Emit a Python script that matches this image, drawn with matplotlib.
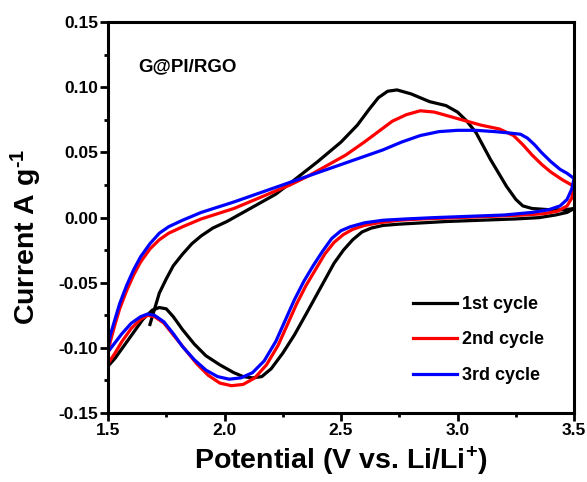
import numpy as np
import matplotlib
matplotlib.use('Agg')
import matplotlib.pyplot as plt
from matplotlib.ticker import MultipleLocator

plt.rcParams['font.family'] = ['Liberation Sans', 'DejaVu Sans']
plt.rcParams['font.weight'] = 'bold'
plt.rcParams['mathtext.fontset'] = 'custom'
plt.rcParams['mathtext.rm'] = 'Liberation Sans:bold'
plt.rcParams['mathtext.bf'] = 'Liberation Sans:bold'
plt.rcParams['mathtext.default'] = 'bf'

# 1st cycle: starts near 1.68 V, anodic sweep to 3.5 V then back to 1.5 V
c1_up_v = [1.68, 1.70, 1.72, 1.75, 1.78, 1.82, 1.86, 1.90, 1.95, 2.01, 2.08, 2.14, 2.22,
           2.30, 2.40, 2.50, 2.57, 2.62, 2.66, 2.70, 2.74, 2.80, 2.88, 2.95, 3.00, 3.04,
           3.08, 3.11, 3.14, 3.18, 3.21, 3.25, 3.28, 3.32, 3.40, 3.46, 3.50]
c1_up_i = [-0.082, -0.070, -0.058, -0.047, -0.037, -0.028, -0.020, -0.014, -0.008, -0.003,
           0.004, 0.010, 0.018, 0.029, 0.043, 0.058, 0.071, 0.083, 0.092, 0.097, 0.098,
           0.095, 0.089, 0.086, 0.081, 0.074, 0.065, 0.055, 0.045, 0.033, 0.024, 0.014,
           0.009, 0.007, 0.006, 0.006, 0.007]
c1_dn_v = [3.50, 3.47, 3.42, 3.35, 3.25, 3.10, 2.95, 2.85, 2.75, 2.68, 2.63, 2.59, 2.55,
           2.51, 2.47, 2.43, 2.39, 2.35, 2.30, 2.25, 2.20, 2.16, 2.12, 2.08, 2.04, 1.98,
           1.92, 1.87, 1.82, 1.78, 1.75, 1.72, 1.69, 1.65, 1.61, 1.57, 1.53, 1.50]
c1_dn_i = [0.007, 0.004, 0.002, 0.000, -0.001, -0.002, -0.003, -0.004, -0.005, -0.006,
           -0.008, -0.011, -0.017, -0.025, -0.035, -0.048, -0.061, -0.074, -0.090, -0.104,
           -0.116, -0.122, -0.123, -0.122, -0.119, -0.113, -0.106, -0.097, -0.086, -0.076,
           -0.070, -0.069, -0.071, -0.078, -0.088, -0.098, -0.108, -0.114]

c2_up_v = [1.50, 1.51, 1.53, 1.55, 1.58, 1.61, 1.64, 1.68, 1.72, 1.76, 1.82, 1.90, 1.97,
           2.04, 2.12, 2.20, 2.28, 2.36, 2.44, 2.52, 2.60, 2.66, 2.72, 2.78, 2.84, 2.90,
           2.96, 3.04, 3.10, 3.18, 3.24, 3.28, 3.32, 3.36, 3.40, 3.45, 3.50]
c2_up_i = [-0.105, -0.095, -0.082, -0.070, -0.056, -0.044, -0.034, -0.024, -0.017, -0.012,
           -0.007, -0.001, 0.003, 0.007, 0.013, 0.019, 0.025, 0.032, 0.040, 0.048, 0.058,
           0.066, 0.074, 0.079, 0.082, 0.081, 0.078, 0.074, 0.071, 0.068, 0.063, 0.056,
           0.048, 0.041, 0.035, 0.029, 0.024]
c2_dn_v = [3.50, 3.49, 3.47, 3.43, 3.37, 3.28, 3.15, 3.00, 2.85, 2.75, 2.66, 2.60, 2.55,
           2.51, 2.47, 2.43, 2.39, 2.35, 2.31, 2.27, 2.23, 2.18, 2.13, 2.08, 2.03, 1.98,
           1.93, 1.88, 1.83, 1.78, 1.74, 1.70, 1.67, 1.64, 1.60, 1.56, 1.53, 1.50]
c2_dn_i = [0.024, 0.015, 0.009, 0.005, 0.003, 0.002, 0.001, 0.000, -0.001, -0.002, -0.004,
           -0.006, -0.009, -0.013, -0.019, -0.028, -0.040, -0.052, -0.066, -0.082, -0.098,
           -0.113, -0.123, -0.128, -0.129, -0.127, -0.121, -0.112, -0.101, -0.090, -0.081,
           -0.076, -0.075, -0.078, -0.085, -0.095, -0.104, -0.112]

c3_up_v = [1.50, 1.51, 1.53, 1.55, 1.58, 1.61, 1.64, 1.68, 1.72, 1.76, 1.82, 1.90, 1.97,
           2.04, 2.12, 2.20, 2.28, 2.36, 2.44, 2.52, 2.60, 2.68, 2.76, 2.84, 2.92, 3.00,
           3.08, 3.16, 3.22, 3.27, 3.30, 3.33, 3.36, 3.40, 3.44, 3.47, 3.50]
c3_up_i = [-0.100, -0.090, -0.078, -0.066, -0.052, -0.040, -0.030, -0.020, -0.012, -0.007,
           -0.002, 0.004, 0.008, 0.012, 0.017, 0.022, 0.027, 0.032, 0.037, 0.042, 0.047,
           0.052, 0.058, 0.063, 0.066, 0.067, 0.067, 0.066, 0.065, 0.064, 0.061, 0.056,
           0.050, 0.043, 0.037, 0.034, 0.030]
c3_dn_v = [3.50, 3.49, 3.47, 3.44, 3.39, 3.32, 3.20, 3.05, 2.90, 2.78, 2.68, 2.60, 2.54,
           2.50, 2.46, 2.42, 2.38, 2.34, 2.30, 2.26, 2.22, 2.17, 2.12, 2.07, 2.02, 1.97,
           1.92, 1.87, 1.82, 1.78, 1.74, 1.70, 1.67, 1.64, 1.60, 1.56, 1.53, 1.50]
c3_dn_i = [0.030, 0.022, 0.014, 0.009, 0.006, 0.004, 0.002, 0.001, 0.000, -0.001, -0.002,
           -0.004, -0.007, -0.010, -0.016, -0.026, -0.037, -0.049, -0.063, -0.079, -0.095,
           -0.110, -0.119, -0.123, -0.124, -0.122, -0.117, -0.109, -0.099, -0.089, -0.080,
           -0.075, -0.074, -0.076, -0.081, -0.089, -0.096, -0.103]

labels = ['1st cycle', '2nd cycle', '3rd cycle']
colors = ['#000000', '#ff0000', '#0000ff']

fig = plt.figure(figsize=(5.87, 4.82), dpi=100)
ax = fig.add_axes([0.184, 0.143, 0.794, 0.811])

cycles = [(c1_up_v + c1_dn_v, c1_up_i + c1_dn_i),
          (c2_up_v + c2_dn_v, c2_up_i + c2_dn_i),
          (c3_up_v + c3_dn_v, c3_up_i + c3_dn_i)]
for (v, i), lab, col in zip(cycles, labels, colors):
    ax.plot(v, i, color=col, lw=2.3, label=lab, solid_joinstyle='round')

ax.set_xlim(1.5, 3.5)
ax.set_ylim(-0.15, 0.15)
ax.xaxis.set_major_locator(MultipleLocator(0.5))
ax.xaxis.set_minor_locator(MultipleLocator(0.25))
ax.yaxis.set_major_locator(MultipleLocator(0.05))
ax.yaxis.set_minor_locator(MultipleLocator(0.025))
ax.xaxis.set_major_formatter(matplotlib.ticker.FormatStrFormatter('%.1f'))
ax.yaxis.set_major_formatter(matplotlib.ticker.FuncFormatter(
    lambda y, p: ('%.2f' % y).replace('-0.00', '0.00')))
ax.tick_params(which='both', direction='out', width=2, labelsize=12.5, pad=1.5,
               top=False, right=False)
ax.tick_params(which='major', length=5.5)
ax.tick_params(which='minor', length=3)
for s in ax.spines.values():
    s.set_linewidth(2.2)

ax.set_xlabel(r'Potential (V vs. Li/Li$^{+}$)', fontsize=20.5, fontweight='bold', labelpad=5)
ax.set_ylabel(r'Current A g$^{\text{-1}}$', fontsize=20.5, fontweight='bold')
ax.yaxis.set_label_coords(-0.138, 0.45)

ax.text(1.63, 0.116, 'G@PI/RGO', fontsize=13.5, fontweight='bold', va='center', ha='left')

ax.legend(loc='center left', bbox_to_anchor=(0.655, 0.187), frameon=False,
          fontsize=13, handlelength=2.4, handletextpad=0.3, labelspacing=1.02,
          borderpad=0, borderaxespad=0)

fig.savefig('out.png', dpi=100)
